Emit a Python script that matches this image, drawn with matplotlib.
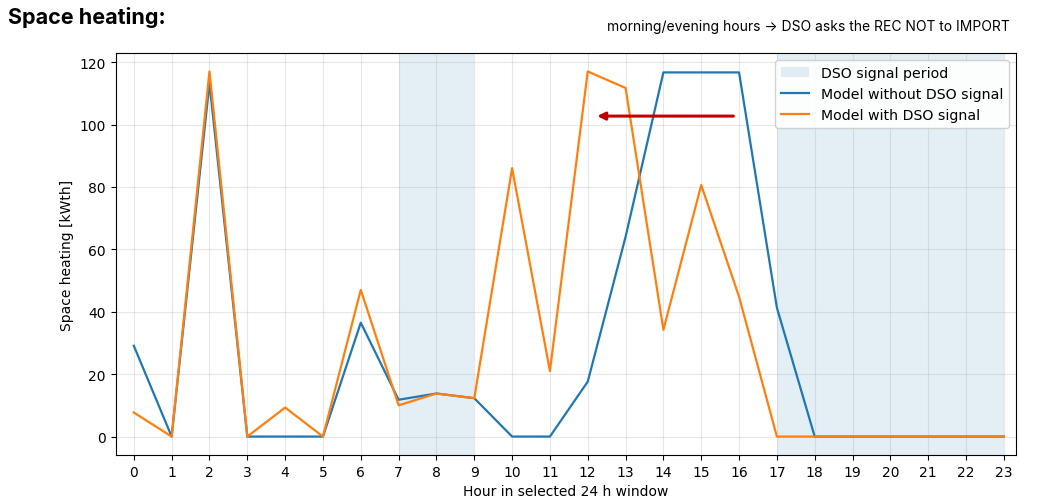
import numpy as np
import matplotlib
matplotlib.use("Agg")
import matplotlib.pyplot as plt

hours = list(range(24))
without_dso = [29.1, 0, 113.3, 0, 0, 0, 36.5, 11.8, 13.8, 12.3, 0, 0,
               17.6, 64, 116.7, 116.7, 116.7, 41.3, 0, 0, 0, 0, 0, 0]
with_dso = [7.7, 0, 117, 0, 9.3, 0, 47, 10, 13.8, 12.3, 86, 21,
            117, 111.7, 34.2, 80.6, 44.8, 0, 0, 0, 0, 0, 0, 0]
signal_periods = [(7, 9), (17, 23)]

fig = plt.figure(figsize=(10.42, 5.02), dpi=100)
ax = fig.add_axes([0.111, 0.092, 0.864, 0.80])

for i, (a, b) in enumerate(signal_periods):
    ax.axvspan(a, b, color="#1f77b4", alpha=0.12, lw=0,
               label="DSO signal period" if i == 0 else None)

ax.plot(hours, without_dso, color="#1f77b4", lw=1.6, label="Model without DSO signal")
ax.plot(hours, with_dso, color="#ff7f0e", lw=1.6, label="Model with DSO signal")

# shift arrow
ax.annotate("", xy=(12.25, 102.7), xytext=(15.85, 102.7),
            arrowprops=dict(arrowstyle="-|>", color="#c00000", lw=2.2,
                            mutation_scale=11, shrinkA=0, shrinkB=0))

ax.set_xlim(-0.48, 23.32)
ax.set_xticks(hours)
ax.set_xlabel("Hour in selected 24 h window")
ax.set_ylabel("Space heating [kWth]")
ax.grid(True, alpha=0.3)
ax.legend(loc="upper right", framealpha=0.9, fontsize=10.2)

fig.text(0.008, 0.953, "Space heating:", fontsize=15.5, fontweight="bold", family="Inter")
fig.text(0.969, 0.938, "morning/evening hours \u2192 DSO asks the REC NOT to IMPORT",
         fontsize=10, ha="right", family=["Inter", "DejaVu Sans"])

fig.savefig("out.png", dpi=100)
